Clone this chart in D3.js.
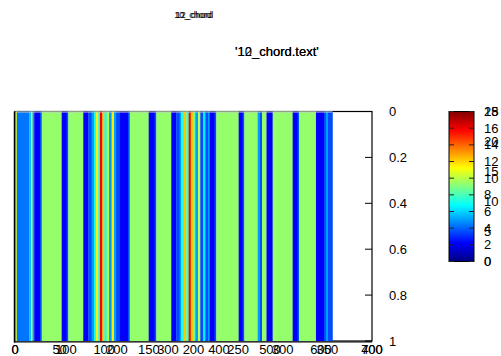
<!DOCTYPE html>
<html><head><meta charset="utf-8">
<script src="https://cdn.jsdelivr.net/npm/d3@7"></script>
<style>body{margin:0;background:#fff;overflow:hidden} text{font-family:"Liberation Sans",Arial,sans-serif;fill:#000}</style>
</head><body><svg id="c" width="501" height="356"></svg>
<script>
// ---- data ----
const plotTitles = ["10_chord", "12_chord"];
const keyTitles = ["'10_chord.text'", "'12_chord.text'"];
const xTicksA = [0, 50, 100, 150, 200, 250, 300, 350, 400];
const xTicksB = [0, 100, 200, 300, 400, 500, 600, 700];
const yTicks = [0, 0.2, 0.4, 0.6, 0.8, 1];
const yTickLabels = ["0", "0.2", "0.4", "0.6", "0.8", "1"];
const cbTicksA = [0, 2, 4, 6, 8, 10, 12, 14, 16, 18];
const cbTicksB = [0, 5, 10, 15, 20, 25];
// heat-map column runs (start position on the 0..400 axis, value)
const segStart = [0.5, 2, 16, 17.9, 19.6, 21.6, 28, 29.9, 52.3, 57.9, 59.7, 76.5, 82.1, 85.9, 88.5, 90.8, 93.3, 95.2, 97.8, 100.1, 102.7, 105.3, 108.3, 110.9, 113.2, 117.1, 126.6, 128.5, 149.8, 156.5, 158.3, 175.1, 180.7, 184.5, 186.3, 189.0, 191.9, 194.6, 196.9, 199.4, 202.0, 205.0, 207.6, 210.6, 213.2, 216.2, 218.1, 223.7, 225.5, 250.6, 255.1, 256.9, 271.9, 274.5, 276.7, 281.8, 288.7, 311.1, 316.7, 318.2, 337.2, 346.2, 348.4, 350.7];
const segValue = [15, 6, 8, 14, 7, 3, 5, 13, 3, 5, 13, 3, 5, 7, 10, 16, 10, 22, 17, 10, 14, 7, 16, 7, 5, 3, 5, 13, 3, 5, 13, 3, 5, 7, 10, 17, 11, 22, 17, 12, 7, 14, 5, 9, 5, 7, 3, 5, 13, 3, 5, 13, 7, 5, 13, 3, 13, 3, 5, 13, 3, 5, 7, 5];
const segEndLast = 355.7;
const valueMax = 25;

// ---- drawing ----
const svg = d3.select("#c");
const L = 15, R = 372, T = 111.5, B = 341;
const xA = d3.scaleLinear().domain([0, 400]).range([L, R]);
const xB = d3.scaleLinear().domain([0, 700]).range([L, R]);
const y = d3.scaleLinear().domain([0, 1]).range([T, B]);

function jet(t) {
  const c = v => Math.max(0, Math.min(1, v));
  const r = c(1.5 - Math.abs(4 * t - 3)), g = c(1.5 - Math.abs(4 * t - 2)), b = c(1.5 - Math.abs(4 * t - 1));
  return d3.rgb(r * 255, g * 255, b * 255).formatHex();
}
const color = v => jet(v / valueMax);

// titles
plotTitles.forEach((t, i) => {
  svg.append("text").attr("x", 193 + i * 1.5).attr("y", 18).attr("text-anchor", "middle")
    .attr("font-size", 9).text(t);
});
keyTitles.forEach(t => {
  svg.append("text").attr("x", 235).attr("y", 56).attr("font-size", 13).text(t);
});

// frame
svg.append("rect").attr("x", L).attr("y", T).attr("width", R - L).attr("height", B - T)
  .attr("fill", "none").attr("stroke", "#000").attr("stroke-width", 1.2);

// right y axis ticks and labels
const yAxis = svg.append("g");
yAxis.selectAll("line").data(yTicks).join("line")
  .attr("x1", R - 7).attr("x2", R).attr("y1", d => y(d)).attr("y2", d => y(d))
  .attr("stroke", "#000").attr("stroke-width", 1);
yAxis.selectAll("text").data(yTicks).join("text")
  .attr("x", 389).attr("y", d => y(d)).attr("dy", "0.35em").attr("font-size", 13)
  .text((d, i) => yTickLabels[i]);

// x tick labels (both overlaid scales)
[[xTicksA, xA], [xTicksB, xB]].forEach(([ticks, sc]) => {
  svg.append("g").selectAll("text").data(ticks).join("text")
    .attr("x", d => sc(d)).attr("y", 354).attr("text-anchor", "middle").attr("font-size", 13)
    .text(d => d);
});

// heat map
const segs = segStart.map((s, i) => ({ s, e: i < segStart.length - 1 ? segStart[i + 1] : segEndLast, v: segValue[i] }));
svg.append("g").selectAll("rect").data(segs).join("rect")
  .attr("x", d => xA(d.s)).attr("width", d => xA(d.e) - xA(d.s) + 0.3)
  .attr("y", y(0)).attr("height", y(1) - y(0))
  .attr("fill", d => color(d.v));
svg.append("line").attr("x1", xA(segStart[0])).attr("x2", xA(segEndLast)).attr("y1", y(0) + 0.5).attr("y2", y(0) + 0.5)
  .attr("stroke", "#c8c8c8").attr("stroke-width", 1);
// left and bottom axis lines over the image
svg.append("line").attr("x1", L - 0.5).attr("x2", L - 0.5).attr("y1", T).attr("y2", B + 1.5).attr("stroke", "#000").attr("stroke-width", 1.5);
svg.append("line").attr("x1", L - 1).attr("x2", R).attr("y1", B + 1).attr("y2", B + 1).attr("stroke", "#000").attr("stroke-width", 1.2);

// colour box
const cbL = 449, cbR = 474, cbT = 111.5, cbB = 261.5;
const defs = svg.append("defs");
const grad = defs.append("linearGradient").attr("id", "jet").attr("x1", 0).attr("x2", 0).attr("y1", 1).attr("y2", 0);
grad.selectAll("stop").data(d3.range(0, 1.0001, 0.0625)).join("stop")
  .attr("offset", d => d).attr("stop-color", d => jet(d));
svg.append("rect").attr("x", cbL).attr("y", cbT).attr("width", cbR - cbL).attr("height", cbB - cbT)
  .attr("fill", "url(#jet)").attr("stroke", "#000").attr("stroke-width", 1);
const cbA = d3.scaleLinear().domain([0, 18]).range([cbB, cbT]);
const cbB2 = d3.scaleLinear().domain([0, 25]).range([cbB, cbT]);
const cbg = svg.append("g");
cbg.selectAll("line.l").data(cbTicksA).join("line").attr("class", "l")
  .attr("x1", cbL).attr("x2", cbL + 5).attr("y1", d => cbA(d)).attr("y2", d => cbA(d)).attr("stroke", "#222");
cbg.selectAll("line.r").data(cbTicksA).join("line").attr("class", "r")
  .attr("x1", cbR - 5).attr("x2", cbR).attr("y1", d => cbA(d)).attr("y2", d => cbA(d)).attr("stroke", "#222");
[[cbTicksA, cbA], [cbTicksB, cbB2]].forEach(([ticks, sc]) => {
  svg.append("g").selectAll("text").data(ticks).join("text")
    .attr("x", 484).attr("y", d => sc(d)).attr("dy", "0.35em").attr("font-size", 13).text(d => d);
});
</script></body></html>
